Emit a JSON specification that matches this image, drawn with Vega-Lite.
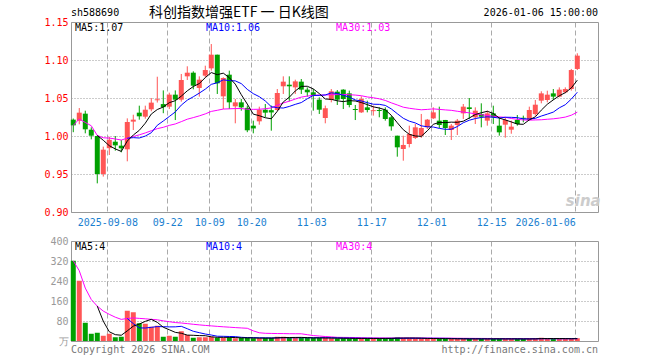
{
  "$schema": "https://vega.github.io/schema/vega-lite/v6.json",
  "padding": {"left": 43, "top": 5, "right": 5, "bottom": 5},
  "background": "white",
  "spacing": 29,
  "bounds": "flush",
  "config": {
    "view": {"stroke": "#999999", "strokeWidth": 1},
    "axis": {"labelFont": "DejaVu Sans Mono", "labelFontSize": 10, "domain": false, "ticks": false, "title": null, "labelOverlap": false},
    "text": {"font": "DejaVu Sans Mono", "fontSize": 10}
  },
  "datasets": {
    "k": [
      {"i":0,"d":"2025-08-29","o":1.0215,"h":1.023,"l":1.005,"c":1.014,"v":321},
      {"i":1,"d":"2025-09-01","o":1.020,"h":1.0368,"l":1.0154,"c":1.0307,"v":241},
      {"i":2,"d":"2025-09-02","o":1.0294,"h":1.0333,"l":1.0035,"c":1.0088,"v":73},
      {"i":3,"d":"2025-09-03","o":1.0083,"h":1.0114,"l":0.9956,"c":1.0004,"v":29},
      {"i":4,"d":"2025-09-04","o":1.0,"h":1.0005,"l":0.9377,"c":0.950,"v":33},
      {"i":5,"d":"2025-09-05","o":0.950,"h":0.986,"l":0.9466,"c":0.982,"v":21},
      {"i":6,"d":"2025-09-08","o":0.984,"h":0.999,"l":0.975,"c":0.995,"v":29},
      {"i":7,"d":"2025-09-09","o":0.9925,"h":1.0,"l":0.9807,"c":0.9877,"v":15},
      {"i":8,"d":"2025-09-10","o":0.9873,"h":0.9947,"l":0.9785,"c":0.9838,"v":17},
      {"i":9,"d":"2025-09-11","o":0.9825,"h":1.0232,"l":0.9667,"c":1.0184,"v":121},
      {"i":10,"d":"2025-09-12","o":1.0189,"h":1.028,"l":1.0079,"c":1.0215,"v":115},
      {"i":11,"d":"2025-09-15","o":1.0307,"h":1.0399,"l":1.0215,"c":1.0259,"v":71},
      {"i":12,"d":"2025-09-16","o":1.0254,"h":1.0399,"l":1.0228,"c":1.0346,"v":69},
      {"i":13,"d":"2025-09-17","o":1.0351,"h":1.050,"l":1.0325,"c":1.0439,"v":57},
      {"i":14,"d":"2025-09-18","o":1.047,"h":1.078,"l":1.044,"c":1.0483,"v":61},
      {"i":15,"d":"2025-09-19","o":1.042,"h":1.060,"l":1.030,"c":1.038,"v":17},
      {"i":16,"d":"2025-09-22","o":1.0386,"h":1.057,"l":1.0355,"c":1.0544,"v":21},
      {"i":17,"d":"2025-09-23","o":1.0544,"h":1.060,"l":1.021,"c":1.0478,"v":17},
      {"i":18,"d":"2025-09-24","o":1.0478,"h":1.0816,"l":1.0452,"c":1.0737,"v":39},
      {"i":19,"d":"2025-09-25","o":1.0785,"h":1.0917,"l":1.0737,"c":1.0833,"v":24},
      {"i":20,"d":"2025-09-26","o":1.0833,"h":1.0851,"l":1.0614,"c":1.0662,"v":13},
      {"i":21,"d":"2025-09-29","o":1.0632,"h":1.0785,"l":1.0518,"c":1.0741,"v":15},
      {"i":22,"d":"2025-09-30","o":1.0794,"h":1.0925,"l":1.0772,"c":1.0868,"v":15},
      {"i":23,"d":"2025-10-09","o":1.089,"h":1.121,"l":1.086,"c":1.107,"v":17},
      {"i":24,"d":"2025-10-10","o":1.107,"h":1.107,"l":1.0553,"c":1.0693,"v":13},
      {"i":25,"d":"2025-10-13","o":1.0522,"h":1.0772,"l":1.0355,"c":1.0763,"v":13},
      {"i":26,"d":"2025-10-14","o":1.0807,"h":1.086,"l":1.0355,"c":1.0443,"v":15},
      {"i":27,"d":"2025-10-15","o":1.039,"h":1.0487,"l":1.0167,"c":1.0443,"v":11},
      {"i":28,"d":"2025-10-16","o":1.0443,"h":1.0487,"l":1.0333,"c":1.0377,"v":12},
      {"i":29,"d":"2025-10-17","o":1.037,"h":1.040,"l":1.005,"c":1.0075,"v":12},
      {"i":30,"d":"2025-10-20","o":1.0136,"h":1.0202,"l":1.0035,"c":1.010,"v":11},
      {"i":31,"d":"2025-10-21","o":1.0193,"h":1.0386,"l":1.0149,"c":1.0342,"v":11},
      {"i":32,"d":"2025-10-22","o":1.0346,"h":1.0421,"l":1.0246,"c":1.0307,"v":12},
      {"i":33,"d":"2025-10-23","o":1.034,"h":1.040,"l":1.007,"c":1.031,"v":12},
      {"i":34,"d":"2025-10-24","o":1.0342,"h":1.0618,"l":1.0333,"c":1.0566,"v":17},
      {"i":35,"d":"2025-10-27","o":1.0654,"h":1.0785,"l":1.0553,"c":1.0715,"v":17},
      {"i":36,"d":"2025-10-28","o":1.0675,"h":1.0785,"l":1.0456,"c":1.0654,"v":12},
      {"i":37,"d":"2025-10-29","o":1.064,"h":1.0741,"l":1.0553,"c":1.0719,"v":13},
      {"i":38,"d":"2025-10-30","o":1.0715,"h":1.075,"l":1.0553,"c":1.061,"v":13},
      {"i":39,"d":"2025-10-31","o":1.061,"h":1.064,"l":1.0518,"c":1.0575,"v":12},
      {"i":40,"d":"2025-11-03","o":1.0575,"h":1.0618,"l":1.0333,"c":1.054,"v":12},
      {"i":41,"d":"2025-11-04","o":1.0478,"h":1.0509,"l":1.029,"c":1.0346,"v":12},
      {"i":42,"d":"2025-11-05","o":1.0237,"h":1.040,"l":1.0167,"c":1.0364,"v":12},
      {"i":43,"d":"2025-11-06","o":1.0474,"h":1.0618,"l":1.0443,"c":1.0588,"v":11},
      {"i":44,"d":"2025-11-07","o":1.0583,"h":1.0605,"l":1.0408,"c":1.0478,"v":10},
      {"i":45,"d":"2025-11-10","o":1.061,"h":1.0615,"l":1.0355,"c":1.0487,"v":11},
      {"i":46,"d":"2025-11-11","o":1.0561,"h":1.0597,"l":1.0377,"c":1.0408,"v":10},
      {"i":47,"d":"2025-11-12","o":1.0355,"h":1.0408,"l":1.021,"c":1.0342,"v":10},
      {"i":48,"d":"2025-11-13","o":1.0311,"h":1.0522,"l":1.0303,"c":1.0487,"v":11},
      {"i":49,"d":"2025-11-14","o":1.0377,"h":1.0465,"l":1.0311,"c":1.0342,"v":10},
      {"i":50,"d":"2025-11-17","o":1.0327,"h":1.040,"l":1.0268,"c":1.034,"v":10},
      {"i":51,"d":"2025-11-18","o":1.0342,"h":1.0377,"l":1.0246,"c":1.0329,"v":10},
      {"i":52,"d":"2025-11-19","o":1.0346,"h":1.0377,"l":1.0202,"c":1.0224,"v":11},
      {"i":53,"d":"2025-11-20","o":1.0246,"h":1.0268,"l":1.007,"c":1.0127,"v":12},
      {"i":54,"d":"2025-11-21","o":1.0004,"h":1.0004,"l":0.9728,"c":0.9851,"v":14},
      {"i":55,"d":"2025-11-24","o":0.9829,"h":1.0004,"l":0.9675,"c":0.9882,"v":12},
      {"i":56,"d":"2025-11-25","o":0.9895,"h":1.0136,"l":0.985,"c":1.0026,"v":11},
      {"i":57,"d":"2025-11-26","o":0.9974,"h":1.0158,"l":0.996,"c":1.0114,"v":10},
      {"i":58,"d":"2025-11-27","o":1.0004,"h":1.029,"l":0.9975,"c":1.0105,"v":10},
      {"i":59,"d":"2025-11-28","o":1.0114,"h":1.0224,"l":1.0092,"c":1.0215,"v":9},
      {"i":60,"d":"2025-12-01","o":1.0232,"h":1.0377,"l":1.0224,"c":1.0311,"v":10},
      {"i":61,"d":"2025-12-02","o":1.0202,"h":1.0386,"l":1.0105,"c":1.0145,"v":9},
      {"i":62,"d":"2025-12-03","o":1.0211,"h":1.0211,"l":1.0013,"c":1.0105,"v":9},
      {"i":63,"d":"2025-12-04","o":1.0079,"h":1.0158,"l":0.9947,"c":1.0136,"v":8},
      {"i":64,"d":"2025-12-05","o":1.0145,"h":1.0224,"l":1.0013,"c":1.0202,"v":8},
      {"i":65,"d":"2025-12-08","o":1.0298,"h":1.0421,"l":1.0224,"c":1.0386,"v":9},
      {"i":66,"d":"2025-12-09","o":1.0377,"h":1.050,"l":1.0224,"c":1.0355,"v":8},
      {"i":67,"d":"2025-12-10","o":1.0246,"h":1.0377,"l":1.0158,"c":1.0333,"v":9},
      {"i":68,"d":"2025-12-11","o":1.029,"h":1.043,"l":1.0114,"c":1.0254,"v":8},
      {"i":69,"d":"2025-12-12","o":1.0202,"h":1.0333,"l":1.0136,"c":1.0298,"v":8},
      {"i":70,"d":"2025-12-15","o":1.0298,"h":1.0399,"l":1.0158,"c":1.0246,"v":9},
      {"i":71,"d":"2025-12-16","o":1.0136,"h":1.0246,"l":1.0004,"c":1.0048,"v":9},
      {"i":72,"d":"2025-12-17","o":1.0149,"h":1.0246,"l":0.9978,"c":1.0211,"v":8},
      {"i":73,"d":"2025-12-18","o":1.0083,"h":1.0202,"l":1.003,"c":1.0123,"v":8},
      {"i":74,"d":"2025-12-19","o":1.0211,"h":1.0276,"l":1.0136,"c":1.0158,"v":8},
      {"i":75,"d":"2025-12-22","o":1.024,"h":1.0268,"l":1.018,"c":1.0228,"v":8},
      {"i":76,"d":"2025-12-23","o":1.0211,"h":1.0386,"l":1.0202,"c":1.0342,"v":9},
      {"i":77,"d":"2025-12-24","o":1.0289,"h":1.0474,"l":1.0268,"c":1.0412,"v":10},
      {"i":78,"d":"2025-12-25","o":1.0465,"h":1.0588,"l":1.043,"c":1.0561,"v":13},
      {"i":79,"d":"2025-12-26","o":1.0474,"h":1.0596,"l":1.0443,"c":1.0544,"v":9},
      {"i":80,"d":"2025-12-29","o":1.0561,"h":1.0618,"l":1.0474,"c":1.0518,"v":8},
      {"i":81,"d":"2025-12-30","o":1.0518,"h":1.064,"l":1.0509,"c":1.061,"v":9},
      {"i":82,"d":"2025-12-31","o":1.0575,"h":1.064,"l":1.0561,"c":1.0618,"v":9},
      {"i":83,"d":"2026-01-05","o":1.0618,"h":1.0882,"l":1.0597,"c":1.0868,"v":10},
      {"i":84,"d":"2026-01-06","o":1.0882,"h":1.1088,"l":1.0868,"c":1.1057,"v":11}
    ]
  },
  "vconcat": [
    {
      "width": 527,
      "height": 190,
      "data": {"name": "k"},
      "encoding": {
        "x": {
          "field": "i", "type": "quantitative",
          "scale": {"domain": [-0.38, 87.45], "nice": false, "zero": false, "padding": 0},
          "axis": {
            "values": [5.67, 15.67, 22.67, 29.67, 39.67, 49.67, 59.67, 69.67, 83.67],
            "tickCount": 20,
            "labelExpr": "datum.value < 6 ? '2025-09-08' : datum.value < 16 ? '09-22' : datum.value < 23 ? '10-09' : datum.value < 30 ? '10-20' : datum.value < 40 ? '11-03' : datum.value < 50 ? '11-17' : datum.value < 60 ? '12-01' : datum.value < 70 ? '12-15' : '2026-01-06'",
            "labelAlign": {"condition": {"test": "datum.value > 80", "value": "right"}, "value": "center"},
            "labelColor": "#1a7fd0", "labelPadding": 5, "labelFlush": false, "labelOverlap": false,
            "grid": true, "gridDash": [5, 3], "gridColor": "#aaaaaa"
          }
        }
      },
      "layer": [
        {
          "mark": {"type": "rule", "strokeWidth": 1},
          "encoding": {
            "y": {
              "field": "l", "type": "quantitative",
              "scale": {"domain": [0.9, 1.15], "nice": false, "zero": false},
              "axis": {
                "values": [0.9, 0.95, 1.0, 1.05, 1.1, 1.15], "tickCount": 20, "format": ".2f",
                "labelColor": "#ff0000", "labelPadding": 3, "labelOverlap": false,
                "grid": true, "gridDash": [1, 2], "gridColor": "#999999"
              }
            },
            "y2": {"field": "h"},
            "color": {"condition": {"test": "datum.c >= datum.o", "value": "#ff5555"}, "value": "#00a000"}
          }
        },
        {
          "mark": {"type": "bar", "size": 5},
          "encoding": {
            "y": {"field": "o", "type": "quantitative"},
            "y2": {"field": "c"},
            "color": {"condition": {"test": "datum.c >= datum.o", "value": "#ff5555"}, "value": "#00a000"}
          }
        },
        {
          "transform": [{"window": [{"op": "mean", "field": "c", "as": "ma"}], "frame": [-29, 0], "sort": [{"field": "i"}]}],
          "mark": {"type": "line", "color": "#ff00ff", "strokeWidth": 1},
          "encoding": {"y": {"field": "ma", "type": "quantitative"}}
        },
        {
          "transform": [{"window": [{"op": "mean", "field": "c", "as": "ma"}], "frame": [-9, 0], "sort": [{"field": "i"}]}, {"filter": "datum.i >= 9"}],
          "mark": {"type": "line", "color": "#0000ff", "strokeWidth": 1},
          "encoding": {"y": {"field": "ma", "type": "quantitative"}}
        },
        {
          "transform": [{"window": [{"op": "mean", "field": "c", "as": "ma"}], "frame": [-4, 0], "sort": [{"field": "i"}]}, {"filter": "datum.i >= 4"}],
          "mark": {"type": "line", "color": "#000000", "strokeWidth": 1},
          "encoding": {"y": {"field": "ma", "type": "quantitative"}}
        },
        {
          "transform": [{"filter": "datum.i == 84"}],
          "mark": {"type": "text", "align": "left", "baseline": "middle", "color": "#000000", "text": "MA5:1.07"},
          "encoding": {"x": {"datum": 0.3, "type": "quantitative"}, "y": {"datum": 1.1425, "type": "quantitative"}}
        },
        {
          "transform": [{"filter": "datum.i == 84"}],
          "mark": {"type": "text", "align": "left", "baseline": "middle", "color": "#0000ff", "text": "MA10:1.06"},
          "encoding": {"x": {"datum": 22.1, "type": "quantitative"}, "y": {"datum": 1.1425, "type": "quantitative"}}
        },
        {
          "transform": [{"filter": "datum.i == 84"}],
          "mark": {"type": "text", "align": "left", "baseline": "middle", "color": "#ff00ff", "text": "MA30:1.03"},
          "encoding": {"x": {"datum": 43.8, "type": "quantitative"}, "y": {"datum": 1.1425, "type": "quantitative"}}
        },
        {
          "transform": [{"filter": "datum.i == 84"}],
          "mark": {"type": "text", "align": "left", "baseline": "middle", "color": "#000000", "text": "sh588690"},
          "encoding": {"x": {"datum": -0.38, "type": "quantitative"}, "y": {"datum": 1.1622, "type": "quantitative"}}
        },
        {
          "transform": [{"filter": "datum.i == 84"}],
          "mark": {"type": "text", "align": "center", "baseline": "middle", "color": "#000000", "font": "Noto Sans CJK SC", "fontSize": 14, "text": "科创指数增强ETF 一 日K线图"},
          "encoding": {"x": {"datum": 27.6, "type": "quantitative"}, "y": {"datum": 1.1622, "type": "quantitative"}}
        },
        {
          "transform": [{"filter": "datum.i == 84"}],
          "mark": {"type": "text", "align": "right", "baseline": "middle", "color": "#000000", "text": "2026-01-06 15:00:00"},
          "encoding": {"x": {"datum": 87.45, "type": "quantitative"}, "y": {"datum": 1.1622, "type": "quantitative"}}
        },
        {
          "transform": [{"filter": "datum.i == 84"}],
          "mark": {"type": "text", "align": "center", "baseline": "middle", "color": "#cccccc", "fontSize": 15, "fontStyle": "italic", "fontWeight": "bold", "font": "DejaVu Sans", "text": "sina"},
          "encoding": {"x": {"datum": 85.0, "type": "quantitative"}, "y": {"datum": 0.915, "type": "quantitative"}}
        }
      ]
    },
    {
      "width": 527,
      "height": 100,
      "data": {"name": "k"},
      "encoding": {
        "x": {
          "field": "i", "type": "quantitative",
          "scale": {"domain": [-0.38, 87.45], "nice": false, "zero": false, "padding": 0},
          "axis": {
            "values": [5.67, 15.67, 22.67, 29.67, 39.67, 49.67, 59.67, 69.67, 83.67],
            "tickCount": 20,
            "labels": false,
            "grid": true, "gridDash": [5, 3], "gridColor": "#aaaaaa"
          }
        }
      },
      "layer": [
        {
          "mark": {"type": "bar", "size": 5},
          "encoding": {
            "y": {
              "field": "v", "type": "quantitative",
              "scale": {"domain": [0, 400], "nice": false},
              "axis": {
                "values": [0, 80, 160, 240, 320, 400], "tickCount": 20,
                "labelExpr": "datum.value == 0 ? '万' : datum.label",
                "labelColor": "#999999", "labelPadding": 3, "labelOverlap": false,
                "grid": true, "gridDash": [1, 2], "gridColor": "#999999"
              }
            },
            "color": {"condition": {"test": "datum.c >= datum.o", "value": "#ff5555"}, "value": "#00a000"}
          }
        },
        {
          "transform": [{"window": [{"op": "mean", "field": "v", "as": "ma"}], "frame": [-29, 0], "sort": [{"field": "i"}]}],
          "mark": {"type": "line", "color": "#ff00ff", "strokeWidth": 1},
          "encoding": {"y": {"field": "ma", "type": "quantitative"}}
        },
        {
          "transform": [{"window": [{"op": "mean", "field": "v", "as": "ma"}], "frame": [-9, 0], "sort": [{"field": "i"}]}, {"filter": "datum.i >= 9"}],
          "mark": {"type": "line", "color": "#0000ff", "strokeWidth": 1},
          "encoding": {"y": {"field": "ma", "type": "quantitative"}}
        },
        {
          "transform": [{"window": [{"op": "mean", "field": "v", "as": "ma"}], "frame": [-4, 0], "sort": [{"field": "i"}]}, {"filter": "datum.i >= 4"}],
          "mark": {"type": "line", "color": "#000000", "strokeWidth": 1},
          "encoding": {"y": {"field": "ma", "type": "quantitative"}}
        },
        {
          "transform": [{"filter": "datum.i == 84"}],
          "mark": {"type": "text", "align": "left", "baseline": "middle", "color": "#000000", "text": "MA5:4"},
          "encoding": {"x": {"datum": 0.3, "type": "quantitative"}, "y": {"datum": 377, "type": "quantitative"}}
        },
        {
          "transform": [{"filter": "datum.i == 84"}],
          "mark": {"type": "text", "align": "left", "baseline": "middle", "color": "#0000ff", "text": "MA10:4"},
          "encoding": {"x": {"datum": 22.1, "type": "quantitative"}, "y": {"datum": 377, "type": "quantitative"}}
        },
        {
          "transform": [{"filter": "datum.i == 84"}],
          "mark": {"type": "text", "align": "left", "baseline": "middle", "color": "#ff00ff", "text": "MA30:4"},
          "encoding": {"x": {"datum": 43.8, "type": "quantitative"}, "y": {"datum": 377, "type": "quantitative"}}
        },
        {
          "transform": [{"filter": "datum.i == 84"}],
          "mark": {"type": "text", "align": "left", "baseline": "middle", "color": "#777777", "text": "Copyright 2026 SINA.COM"},
          "encoding": {"x": {"datum": -0.38, "type": "quantitative"}, "y": {"datum": -37, "type": "quantitative"}}
        },
        {
          "transform": [{"filter": "datum.i == 84"}],
          "mark": {"type": "text", "align": "right", "baseline": "middle", "color": "#777777", "text": "http://finance.sina.com.cn"},
          "encoding": {"x": {"datum": 87.45, "type": "quantitative"}, "y": {"datum": -37, "type": "quantitative"}}
        }
      ]
    }
  ]
}
